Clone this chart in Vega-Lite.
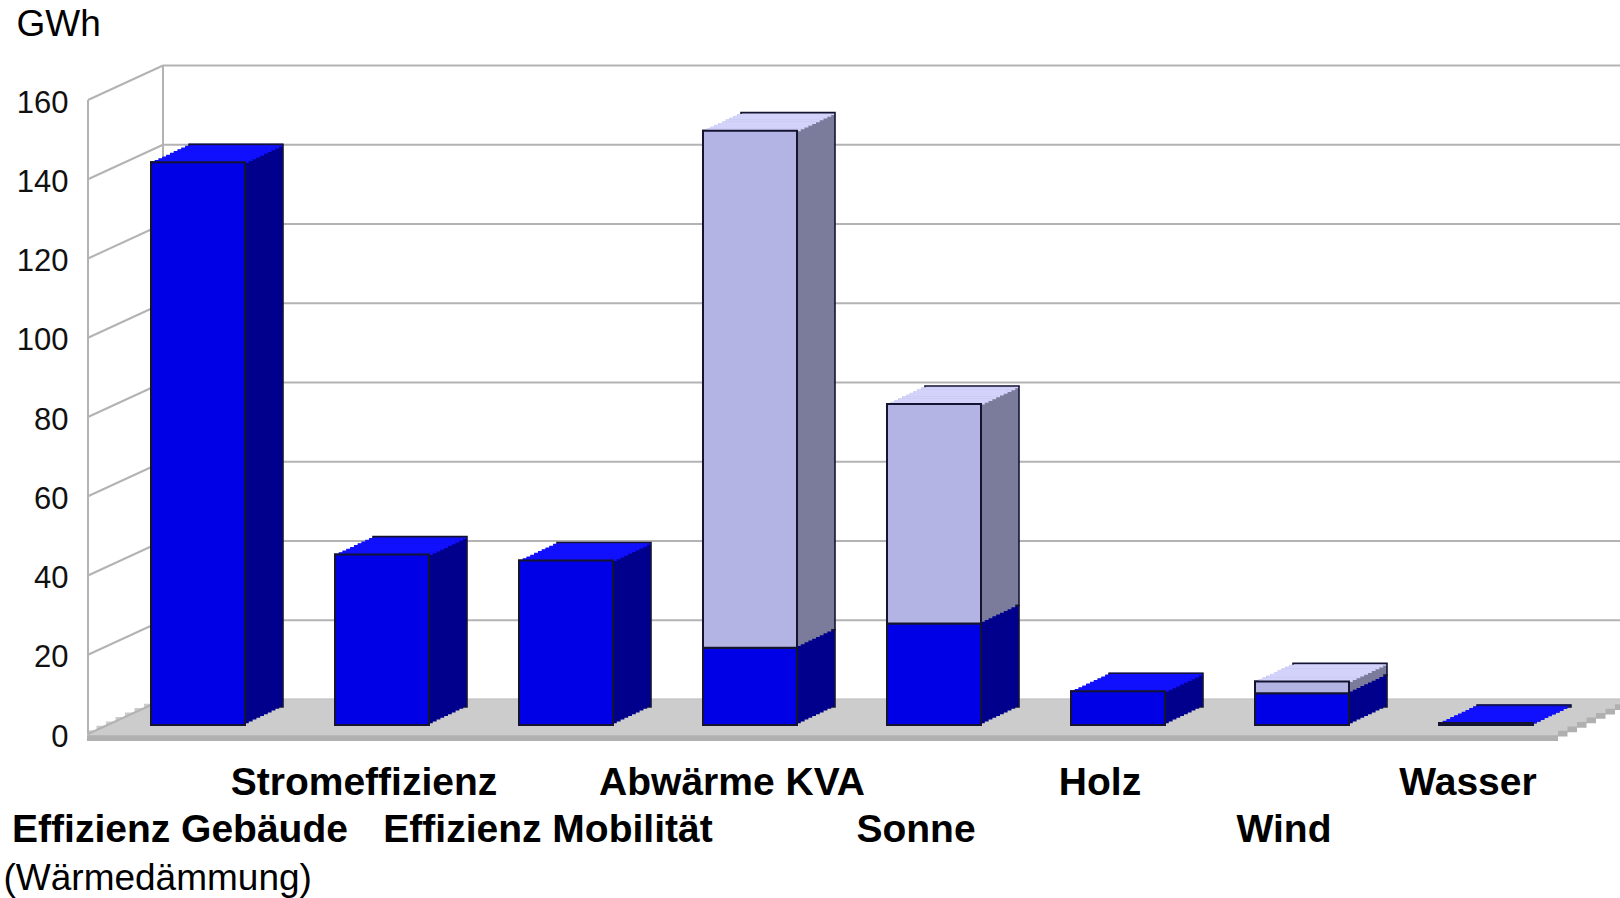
{
  "$schema": "https://vega.github.io/schema/vega-lite/v6.json",
  "width": 1508,
  "height": 634,
  "autosize": {"type": "none"},
  "padding": {"left": 88, "top": 91, "right": 24, "bottom": 173},
  "background": "white",
  "config": {"view": {"stroke": null}, "font": "Liberation Sans"},
  "datasets": {
    "balken": [
      {"kategorie": "Effizienz Gebäude", "ebene": 1, "wert": 142},
      {"kategorie": "Stromeffizienz", "ebene": 1, "wert": 43},
      {"kategorie": "Effizienz Mobilität", "ebene": 1, "wert": 41.5},
      {"kategorie": "Abwärme KVA", "ebene": 1, "wert": 19.5},
      {"kategorie": "Abwärme KVA", "ebene": 2, "wert": 130.5},
      {"kategorie": "Sonne", "ebene": 1, "wert": 25.6},
      {"kategorie": "Sonne", "ebene": 2, "wert": 55.4},
      {"kategorie": "Holz", "ebene": 1, "wert": 8.5},
      {"kategorie": "Wind", "ebene": 1, "wert": 8},
      {"kategorie": "Wind", "ebene": 2, "wert": 3},
      {"kategorie": "Wasser", "ebene": 1, "wert": 0.5}
    ],
    "gitter": [{"v": 0}, {"v": 20}, {"v": 40}, {"v": 60}, {"v": 80}, {"v": 100}, {"v": 120}, {"v": 140}, {"v": 160}],
    "eins": [{"v": 0}]
  },
  "layer": [
    {"data": {"name": "balken"}, "mark": {"type": "bar", "width": 94, "stroke": "#141432", "strokeWidth": 2},
     "encoding": {
       "x": {"field": "kategorie", "type": "nominal", "sort": null, "scale": {"paddingInner": 0, "paddingOuter": 0.0978},
         "axis": {"title": "(Wärmedämmung)", "domain": false, "ticks": false, "grid": false, "labelAngle": 0, "labelOverlap": false, "labelLimit": 600, "labelBound": false, "labelFlush": false,
           "labelFont": "Liberation Sans", "labelFontSize": 39, "labelFontWeight": "bold", "labelColor": "#000000", "labelOffset": -18,
           "labelPadding": {"condition": {"test": "indexof(['Stromeffizienz','Abwärme KVA','Holz','Wasser'], datum.value) >= 0", "value": 38}, "value": 85},
           "titleFont": "Liberation Sans", "titleFontSize": 37, "titleFontWeight": "normal", "titleColor": "#000000", "titleX": -85, "titleY": 164, "titleAlign": "left", "titleBaseline": "alphabetic", "titleAnchor": "start"}},
       "y": {"field": "wert", "type": "quantitative", "scale": {"domain": [0, 160], "nice": false},
         "axis": {"title": "GWh", "titleAngle": 0, "titleX": -72, "titleY": -56, "titleAlign": "left", "titleBaseline": "alphabetic", "titleFont": "Liberation Sans", "titleFontSize": 37, "titleFontWeight": "normal", "titleColor": "#000000",
           "values": [0, 20, 40, 60, 80, 100, 120, 140, 160], "domain": false, "ticks": false, "grid": false, "labelFont": "Liberation Sans", "labelFontSize": 31, "labelColor": "#111111", "labelPadding": 20, "labelOffset": 12}},
       "detail": {"field": "ebene", "type": "ordinal"},
       "order": {"field": "ebene", "type": "quantitative"},
       "color": {"value": "transparent"}}},

    {"data": {"name": "gitter"}, "mark": {"type": "rule", "color": "#b3b3b3", "strokeWidth": 2, "yOffset": -25.5, "y2Offset": -25.5, "xOffset": -35, "x2Offset": 300},
     "encoding": {"x": {"datum": "Effizienz Gebäude", "type": "nominal"}, "x2": {"datum": "Wasser"}, "y": {"field": "v", "type": "quantitative"}, "y2": {"field": "v"}}},

    {"data": {"name": "eins"}, "mark": {"type": "rule", "color": "#b0b0b0", "strokeWidth": 6, "strokeCap": "butt", "yOffset": 13, "y2Offset": 13, "xOffset": -111, "x2Offset": 72},
     "encoding": {"x": {"datum": "Effizienz Gebäude", "type": "nominal"}, "x2": {"datum": "Wasser"}, "y": {"datum": 0, "type": "quantitative"}, "y2": {"datum": 0}}},
    {"data": {"name": "eins"}, "mark": {"type": "rule", "color": "#b0b0b0", "strokeWidth": 6, "strokeCap": "butt", "yOffset": 8.56, "y2Offset": 8.56, "xOffset": -101.5, "x2Offset": 81.5},
     "encoding": {"x": {"datum": "Effizienz Gebäude", "type": "nominal"}, "x2": {"datum": "Wasser"}, "y": {"datum": 0, "type": "quantitative"}, "y2": {"datum": 0}}},
    {"data": {"name": "eins"}, "mark": {"type": "rule", "color": "#b0b0b0", "strokeWidth": 6, "strokeCap": "butt", "yOffset": 4.125, "y2Offset": 4.125, "xOffset": -92, "x2Offset": 91},
     "encoding": {"x": {"datum": "Effizienz Gebäude", "type": "nominal"}, "x2": {"datum": "Wasser"}, "y": {"datum": 0, "type": "quantitative"}, "y2": {"datum": 0}}},
    {"data": {"name": "eins"}, "mark": {"type": "rule", "color": "#b0b0b0", "strokeWidth": 6, "strokeCap": "butt", "yOffset": -0.31, "y2Offset": -0.31, "xOffset": -82.5, "x2Offset": 100.5},
     "encoding": {"x": {"datum": "Effizienz Gebäude", "type": "nominal"}, "x2": {"datum": "Wasser"}, "y": {"datum": 0, "type": "quantitative"}, "y2": {"datum": 0}}},
    {"data": {"name": "eins"}, "mark": {"type": "rule", "color": "#b0b0b0", "strokeWidth": 6, "strokeCap": "butt", "yOffset": -4.75, "y2Offset": -4.75, "xOffset": -73, "x2Offset": 110},
     "encoding": {"x": {"datum": "Effizienz Gebäude", "type": "nominal"}, "x2": {"datum": "Wasser"}, "y": {"datum": 0, "type": "quantitative"}, "y2": {"datum": 0}}},
    {"data": {"name": "eins"}, "mark": {"type": "rule", "color": "#b0b0b0", "strokeWidth": 6, "strokeCap": "butt", "yOffset": -9.19, "y2Offset": -9.19, "xOffset": -63.5, "x2Offset": 119.5},
     "encoding": {"x": {"datum": "Effizienz Gebäude", "type": "nominal"}, "x2": {"datum": "Wasser"}, "y": {"datum": 0, "type": "quantitative"}, "y2": {"datum": 0}}},
    {"data": {"name": "eins"}, "mark": {"type": "rule", "color": "#b0b0b0", "strokeWidth": 6, "strokeCap": "butt", "yOffset": -13.6, "y2Offset": -13.6, "xOffset": -54, "x2Offset": 129},
     "encoding": {"x": {"datum": "Effizienz Gebäude", "type": "nominal"}, "x2": {"datum": "Wasser"}, "y": {"datum": 0, "type": "quantitative"}, "y2": {"datum": 0}}},
    {"data": {"name": "eins"}, "mark": {"type": "rule", "color": "#b0b0b0", "strokeWidth": 6, "strokeCap": "butt", "yOffset": -18.06, "y2Offset": -18.06, "xOffset": -44.5, "x2Offset": 138.5},
     "encoding": {"x": {"datum": "Effizienz Gebäude", "type": "nominal"}, "x2": {"datum": "Wasser"}, "y": {"datum": 0, "type": "quantitative"}, "y2": {"datum": 0}}},

    {"data": {"name": "eins"}, "mark": {"type": "rule", "color": "#cccccc", "strokeWidth": 5, "strokeCap": "butt", "yOffset": 7.78, "y2Offset": 7.78, "xOffset": -111, "x2Offset": 72},
     "encoding": {"x": {"datum": "Effizienz Gebäude", "type": "nominal"}, "x2": {"datum": "Wasser"}, "y": {"datum": 0, "type": "quantitative"}, "y2": {"datum": 0}}},
    {"data": {"name": "eins"}, "mark": {"type": "rule", "color": "#cccccc", "strokeWidth": 5, "strokeCap": "butt", "yOffset": 3.34, "y2Offset": 3.34, "xOffset": -101.5, "x2Offset": 81.5},
     "encoding": {"x": {"datum": "Effizienz Gebäude", "type": "nominal"}, "x2": {"datum": "Wasser"}, "y": {"datum": 0, "type": "quantitative"}, "y2": {"datum": 0}}},
    {"data": {"name": "eins"}, "mark": {"type": "rule", "color": "#cccccc", "strokeWidth": 5, "strokeCap": "butt", "yOffset": -1.09, "y2Offset": -1.09, "xOffset": -92, "x2Offset": 91},
     "encoding": {"x": {"datum": "Effizienz Gebäude", "type": "nominal"}, "x2": {"datum": "Wasser"}, "y": {"datum": 0, "type": "quantitative"}, "y2": {"datum": 0}}},
    {"data": {"name": "eins"}, "mark": {"type": "rule", "color": "#cccccc", "strokeWidth": 5, "strokeCap": "butt", "yOffset": -5.53, "y2Offset": -5.53, "xOffset": -82.5, "x2Offset": 100.5},
     "encoding": {"x": {"datum": "Effizienz Gebäude", "type": "nominal"}, "x2": {"datum": "Wasser"}, "y": {"datum": 0, "type": "quantitative"}, "y2": {"datum": 0}}},
    {"data": {"name": "eins"}, "mark": {"type": "rule", "color": "#cccccc", "strokeWidth": 5, "strokeCap": "butt", "yOffset": -9.97, "y2Offset": -9.97, "xOffset": -73, "x2Offset": 110},
     "encoding": {"x": {"datum": "Effizienz Gebäude", "type": "nominal"}, "x2": {"datum": "Wasser"}, "y": {"datum": 0, "type": "quantitative"}, "y2": {"datum": 0}}},
    {"data": {"name": "eins"}, "mark": {"type": "rule", "color": "#cccccc", "strokeWidth": 5, "strokeCap": "butt", "yOffset": -14.4, "y2Offset": -14.4, "xOffset": -63.5, "x2Offset": 119.5},
     "encoding": {"x": {"datum": "Effizienz Gebäude", "type": "nominal"}, "x2": {"datum": "Wasser"}, "y": {"datum": 0, "type": "quantitative"}, "y2": {"datum": 0}}},
    {"data": {"name": "eins"}, "mark": {"type": "rule", "color": "#cccccc", "strokeWidth": 5, "strokeCap": "butt", "yOffset": -18.84, "y2Offset": -18.84, "xOffset": -54, "x2Offset": 129},
     "encoding": {"x": {"datum": "Effizienz Gebäude", "type": "nominal"}, "x2": {"datum": "Wasser"}, "y": {"datum": 0, "type": "quantitative"}, "y2": {"datum": 0}}},
    {"data": {"name": "eins"}, "mark": {"type": "rule", "color": "#cccccc", "strokeWidth": 5, "strokeCap": "butt", "yOffset": -23.28, "y2Offset": -23.28, "xOffset": -44.5, "x2Offset": 138.5},
     "encoding": {"x": {"datum": "Effizienz Gebäude", "type": "nominal"}, "x2": {"datum": "Wasser"}, "y": {"datum": 0, "type": "quantitative"}, "y2": {"datum": 0}}},

    {"data": {"name": "gitter"}, "mark": {"type": "rule", "color": "#b3b3b3", "strokeWidth": 2, "xOffset": -110, "x2Offset": -35, "yOffset": 9, "y2Offset": -25.5},
     "encoding": {"x": {"datum": "Effizienz Gebäude", "type": "nominal"}, "x2": {"datum": "Effizienz Gebäude"}, "y": {"field": "v", "type": "quantitative"}, "y2": {"field": "v"}}},
    {"data": {"name": "eins"}, "mark": {"type": "rule", "color": "#b3b3b3", "strokeWidth": 2, "xOffset": -110, "yOffset": 9, "y2Offset": 9},
     "encoding": {"x": {"datum": "Effizienz Gebäude", "type": "nominal"}, "y": {"datum": 0, "type": "quantitative"}, "y2": {"datum": 160}}},
    {"data": {"name": "eins"}, "mark": {"type": "rule", "color": "#b3b3b3", "strokeWidth": 2, "xOffset": -35, "yOffset": -25.5, "y2Offset": -25.5},
     "encoding": {"x": {"datum": "Effizienz Gebäude", "type": "nominal"}, "y": {"datum": 0, "type": "quantitative"}, "y2": {"datum": 160}}},

    {"data": {"name": "balken"}, "mark": {"type": "bar", "width": 94, "xOffset": 38, "x2Offset": 38, "yOffset": -18, "y2Offset": -18},
     "encoding": {"x": {"field": "kategorie", "type": "nominal", "sort": null}, "y": {"field": "wert", "type": "quantitative"}, "detail": {"field": "ebene", "type": "ordinal"}, "order": {"field": "ebene", "type": "quantitative"}, "color": {"condition": {"test": "datum.ebene === 2", "value": "#7b7b9b"}, "value": "#00008c"}}},
    {"data": {"name": "balken"}, "transform": [{"aggregate": [{"op": "sum", "field": "wert", "as": "gesamt"}, {"op": "max", "field": "ebene", "as": "oben"}], "groupby": ["kategorie"]}],
     "mark": {"type": "tick", "size": 94, "thickness": 2.8, "opacity": 1, "xOffset": 38, "yOffset": -17.1},
     "encoding": {"x": {"field": "kategorie", "type": "nominal", "sort": null}, "y": {"field": "gesamt", "type": "quantitative"}, "color": {"condition": {"test": "datum.oben === 2", "value": "#d2d2fa"}, "value": "#1010ff"}}},
    {"data": {"name": "balken"}, "mark": {"type": "bar", "width": 94, "xOffset": 38, "x2Offset": 38, "yOffset": -18, "y2Offset": -18, "fill": "transparent", "stroke": "#141432", "strokeWidth": 1.6},
     "encoding": {"x": {"field": "kategorie", "type": "nominal", "sort": null}, "y": {"field": "wert", "type": "quantitative"}, "detail": {"field": "ebene", "type": "ordinal"}, "order": {"field": "ebene", "type": "quantitative"}}},

    {"data": {"name": "balken"}, "mark": {"type": "bar", "width": 94, "xOffset": 34.2, "x2Offset": 34.2, "yOffset": -16.2, "y2Offset": -16.2},
     "encoding": {"x": {"field": "kategorie", "type": "nominal", "sort": null}, "y": {"field": "wert", "type": "quantitative"}, "detail": {"field": "ebene", "type": "ordinal"}, "order": {"field": "ebene", "type": "quantitative"}, "color": {"condition": {"test": "datum.ebene === 2", "value": "#7b7b9b"}, "value": "#00008c"}}},
    {"data": {"name": "balken"}, "transform": [{"aggregate": [{"op": "sum", "field": "wert", "as": "gesamt"}, {"op": "max", "field": "ebene", "as": "oben"}], "groupby": ["kategorie"]}],
     "mark": {"type": "tick", "size": 94, "thickness": 2.8, "opacity": 1, "xOffset": 34.2, "yOffset": -15.3},
     "encoding": {"x": {"field": "kategorie", "type": "nominal", "sort": null}, "y": {"field": "gesamt", "type": "quantitative"}, "color": {"condition": {"test": "datum.oben === 2", "value": "#d2d2fa"}, "value": "#1010ff"}}},

    {"data": {"name": "balken"}, "mark": {"type": "bar", "width": 94, "xOffset": 30.4, "x2Offset": 30.4, "yOffset": -14.4, "y2Offset": -14.4},
     "encoding": {"x": {"field": "kategorie", "type": "nominal", "sort": null}, "y": {"field": "wert", "type": "quantitative"}, "detail": {"field": "ebene", "type": "ordinal"}, "order": {"field": "ebene", "type": "quantitative"}, "color": {"condition": {"test": "datum.ebene === 2", "value": "#7b7b9b"}, "value": "#00008c"}}},
    {"data": {"name": "balken"}, "transform": [{"aggregate": [{"op": "sum", "field": "wert", "as": "gesamt"}, {"op": "max", "field": "ebene", "as": "oben"}], "groupby": ["kategorie"]}],
     "mark": {"type": "tick", "size": 94, "thickness": 2.8, "opacity": 1, "xOffset": 30.4, "yOffset": -13.5},
     "encoding": {"x": {"field": "kategorie", "type": "nominal", "sort": null}, "y": {"field": "gesamt", "type": "quantitative"}, "color": {"condition": {"test": "datum.oben === 2", "value": "#d2d2fa"}, "value": "#1010ff"}}},

    {"data": {"name": "balken"}, "mark": {"type": "bar", "width": 94, "xOffset": 26.6, "x2Offset": 26.6, "yOffset": -12.6, "y2Offset": -12.6},
     "encoding": {"x": {"field": "kategorie", "type": "nominal", "sort": null}, "y": {"field": "wert", "type": "quantitative"}, "detail": {"field": "ebene", "type": "ordinal"}, "order": {"field": "ebene", "type": "quantitative"}, "color": {"condition": {"test": "datum.ebene === 2", "value": "#7b7b9b"}, "value": "#00008c"}}},
    {"data": {"name": "balken"}, "transform": [{"aggregate": [{"op": "sum", "field": "wert", "as": "gesamt"}, {"op": "max", "field": "ebene", "as": "oben"}], "groupby": ["kategorie"]}],
     "mark": {"type": "tick", "size": 94, "thickness": 2.8, "opacity": 1, "xOffset": 26.6, "yOffset": -11.7},
     "encoding": {"x": {"field": "kategorie", "type": "nominal", "sort": null}, "y": {"field": "gesamt", "type": "quantitative"}, "color": {"condition": {"test": "datum.oben === 2", "value": "#d2d2fa"}, "value": "#1010ff"}}},

    {"data": {"name": "balken"}, "mark": {"type": "bar", "width": 94, "xOffset": 22.8, "x2Offset": 22.8, "yOffset": -10.8, "y2Offset": -10.8},
     "encoding": {"x": {"field": "kategorie", "type": "nominal", "sort": null}, "y": {"field": "wert", "type": "quantitative"}, "detail": {"field": "ebene", "type": "ordinal"}, "order": {"field": "ebene", "type": "quantitative"}, "color": {"condition": {"test": "datum.ebene === 2", "value": "#7b7b9b"}, "value": "#00008c"}}},
    {"data": {"name": "balken"}, "transform": [{"aggregate": [{"op": "sum", "field": "wert", "as": "gesamt"}, {"op": "max", "field": "ebene", "as": "oben"}], "groupby": ["kategorie"]}],
     "mark": {"type": "tick", "size": 94, "thickness": 2.8, "opacity": 1, "xOffset": 22.8, "yOffset": -9.9},
     "encoding": {"x": {"field": "kategorie", "type": "nominal", "sort": null}, "y": {"field": "gesamt", "type": "quantitative"}, "color": {"condition": {"test": "datum.oben === 2", "value": "#d2d2fa"}, "value": "#1010ff"}}},

    {"data": {"name": "balken"}, "mark": {"type": "bar", "width": 94, "xOffset": 19, "x2Offset": 19, "yOffset": -9, "y2Offset": -9},
     "encoding": {"x": {"field": "kategorie", "type": "nominal", "sort": null}, "y": {"field": "wert", "type": "quantitative"}, "detail": {"field": "ebene", "type": "ordinal"}, "order": {"field": "ebene", "type": "quantitative"}, "color": {"condition": {"test": "datum.ebene === 2", "value": "#7b7b9b"}, "value": "#00008c"}}},
    {"data": {"name": "balken"}, "transform": [{"aggregate": [{"op": "sum", "field": "wert", "as": "gesamt"}, {"op": "max", "field": "ebene", "as": "oben"}], "groupby": ["kategorie"]}],
     "mark": {"type": "tick", "size": 94, "thickness": 2.8, "opacity": 1, "xOffset": 19, "yOffset": -8.1},
     "encoding": {"x": {"field": "kategorie", "type": "nominal", "sort": null}, "y": {"field": "gesamt", "type": "quantitative"}, "color": {"condition": {"test": "datum.oben === 2", "value": "#d2d2fa"}, "value": "#1010ff"}}},

    {"data": {"name": "balken"}, "mark": {"type": "bar", "width": 94, "xOffset": 15.2, "x2Offset": 15.2, "yOffset": -7.2, "y2Offset": -7.2},
     "encoding": {"x": {"field": "kategorie", "type": "nominal", "sort": null}, "y": {"field": "wert", "type": "quantitative"}, "detail": {"field": "ebene", "type": "ordinal"}, "order": {"field": "ebene", "type": "quantitative"}, "color": {"condition": {"test": "datum.ebene === 2", "value": "#7b7b9b"}, "value": "#00008c"}}},
    {"data": {"name": "balken"}, "transform": [{"aggregate": [{"op": "sum", "field": "wert", "as": "gesamt"}, {"op": "max", "field": "ebene", "as": "oben"}], "groupby": ["kategorie"]}],
     "mark": {"type": "tick", "size": 94, "thickness": 2.8, "opacity": 1, "xOffset": 15.2, "yOffset": -6.3},
     "encoding": {"x": {"field": "kategorie", "type": "nominal", "sort": null}, "y": {"field": "gesamt", "type": "quantitative"}, "color": {"condition": {"test": "datum.oben === 2", "value": "#d2d2fa"}, "value": "#1010ff"}}},

    {"data": {"name": "balken"}, "mark": {"type": "bar", "width": 94, "xOffset": 11.4, "x2Offset": 11.4, "yOffset": -5.4, "y2Offset": -5.4},
     "encoding": {"x": {"field": "kategorie", "type": "nominal", "sort": null}, "y": {"field": "wert", "type": "quantitative"}, "detail": {"field": "ebene", "type": "ordinal"}, "order": {"field": "ebene", "type": "quantitative"}, "color": {"condition": {"test": "datum.ebene === 2", "value": "#7b7b9b"}, "value": "#00008c"}}},
    {"data": {"name": "balken"}, "transform": [{"aggregate": [{"op": "sum", "field": "wert", "as": "gesamt"}, {"op": "max", "field": "ebene", "as": "oben"}], "groupby": ["kategorie"]}],
     "mark": {"type": "tick", "size": 94, "thickness": 2.8, "opacity": 1, "xOffset": 11.4, "yOffset": -4.5},
     "encoding": {"x": {"field": "kategorie", "type": "nominal", "sort": null}, "y": {"field": "gesamt", "type": "quantitative"}, "color": {"condition": {"test": "datum.oben === 2", "value": "#d2d2fa"}, "value": "#1010ff"}}},

    {"data": {"name": "balken"}, "mark": {"type": "bar", "width": 94, "xOffset": 7.6, "x2Offset": 7.6, "yOffset": -3.6, "y2Offset": -3.6},
     "encoding": {"x": {"field": "kategorie", "type": "nominal", "sort": null}, "y": {"field": "wert", "type": "quantitative"}, "detail": {"field": "ebene", "type": "ordinal"}, "order": {"field": "ebene", "type": "quantitative"}, "color": {"condition": {"test": "datum.ebene === 2", "value": "#7b7b9b"}, "value": "#00008c"}}},
    {"data": {"name": "balken"}, "transform": [{"aggregate": [{"op": "sum", "field": "wert", "as": "gesamt"}, {"op": "max", "field": "ebene", "as": "oben"}], "groupby": ["kategorie"]}],
     "mark": {"type": "tick", "size": 94, "thickness": 2.8, "opacity": 1, "xOffset": 7.6, "yOffset": -2.7},
     "encoding": {"x": {"field": "kategorie", "type": "nominal", "sort": null}, "y": {"field": "gesamt", "type": "quantitative"}, "color": {"condition": {"test": "datum.oben === 2", "value": "#d2d2fa"}, "value": "#1010ff"}}},

    {"data": {"name": "balken"}, "mark": {"type": "bar", "width": 94, "xOffset": 3.8, "x2Offset": 3.8, "yOffset": -1.8, "y2Offset": -1.8},
     "encoding": {"x": {"field": "kategorie", "type": "nominal", "sort": null}, "y": {"field": "wert", "type": "quantitative"}, "detail": {"field": "ebene", "type": "ordinal"}, "order": {"field": "ebene", "type": "quantitative"}, "color": {"condition": {"test": "datum.ebene === 2", "value": "#7b7b9b"}, "value": "#00008c"}}},
    {"data": {"name": "balken"}, "transform": [{"aggregate": [{"op": "sum", "field": "wert", "as": "gesamt"}, {"op": "max", "field": "ebene", "as": "oben"}], "groupby": ["kategorie"]}],
     "mark": {"type": "tick", "size": 94, "thickness": 2.8, "opacity": 1, "xOffset": 3.8, "yOffset": -0.9},
     "encoding": {"x": {"field": "kategorie", "type": "nominal", "sort": null}, "y": {"field": "gesamt", "type": "quantitative"}, "color": {"condition": {"test": "datum.oben === 2", "value": "#d2d2fa"}, "value": "#1010ff"}}},

    {"data": {"name": "balken"}, "mark": {"type": "bar", "width": 94, "stroke": "#141432", "strokeWidth": 2},
     "encoding": {"x": {"field": "kategorie", "type": "nominal", "sort": null}, "y": {"field": "wert", "type": "quantitative"}, "detail": {"field": "ebene", "type": "ordinal"}, "order": {"field": "ebene", "type": "quantitative"}, "color": {"condition": {"test": "datum.ebene === 2", "value": "#b4b4e4"}, "value": "#0000e6"}}}
  ]
}
